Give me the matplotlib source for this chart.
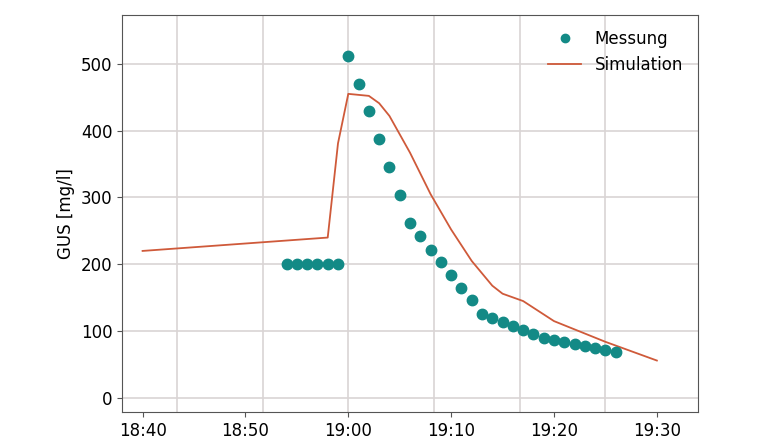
import matplotlib
matplotlib.use("Agg")
import matplotlib.pyplot as plt
import numpy as np

# minutes relative to 19:00
mess_t = [-6, -5, -4, -3, -2, -1] + list(range(0, 27))
mess_v = [200, 200, 200, 200, 200, 200,
          512, 470, 429, 387, 345, 303, 262, 242, 222, 203, 184, 165, 146, 126,
          120, 114, 107, 101, 95, 89, 86, 84, 81, 78, 75, 72, 69]
sim_t = [-20, -2, -1, 0, 2, 3, 4, 6, 8, 10, 12, 14, 15, 17, 20, 25, 30]
sim_v = [220, 240, 381, 455, 452, 441, 422, 367, 305, 252, 205, 168, 156, 145, 115, 84, 56]
xtick_pos = [-20, -10, 0, 10, 20, 30]
xtick_lab = ["18:40", "18:50", "19:00", "19:10", "19:20", "19:30"]
ytick_pos = [0, 100, 200, 300, 400, 500]

fig = plt.figure(figsize=(7.6, 4.4), dpi=100)
ax = fig.add_axes([122/760, 1-412/440, (698-122)/760, (412-15)/440])
grid_x = [0 + k*500/60 for k in range(-3, 4)]
for gx in grid_x:
    ax.axvline(gx, color="#d9d4d4", lw=1.2, zorder=0)
for gy in ytick_pos:
    ax.axhline(gy, color="#d9d4d4", lw=1.2, zorder=0)
ax.plot(mess_t, mess_v, 'o', color="#138a86", ms=7.5, label="Messung", zorder=3)
ax.plot(sim_t, sim_v, '-', color="#cf5a3a", lw=1.3, label="Simulation", zorder=2)
ax.set_xlim(-22.0, 34.0)
ax.set_ylim(-21, 573)
ax.set_xticks(xtick_pos)
ax.set_xticklabels(xtick_lab, fontsize=12)
ax.set_yticks(ytick_pos)
ax.set_yticklabels([str(v) for v in ytick_pos], fontsize=12)
ax.set_ylabel("GUS [mg/l]", fontsize=12)
for s in ax.spines.values():
    s.set_color("#555555")
ax.tick_params(direction="out", colors="#555555", labelcolor="black")
ax.legend(loc="upper right", frameon=False, fontsize=12, markerscale=0.8)
fig.savefig("out.png", dpi=100)
